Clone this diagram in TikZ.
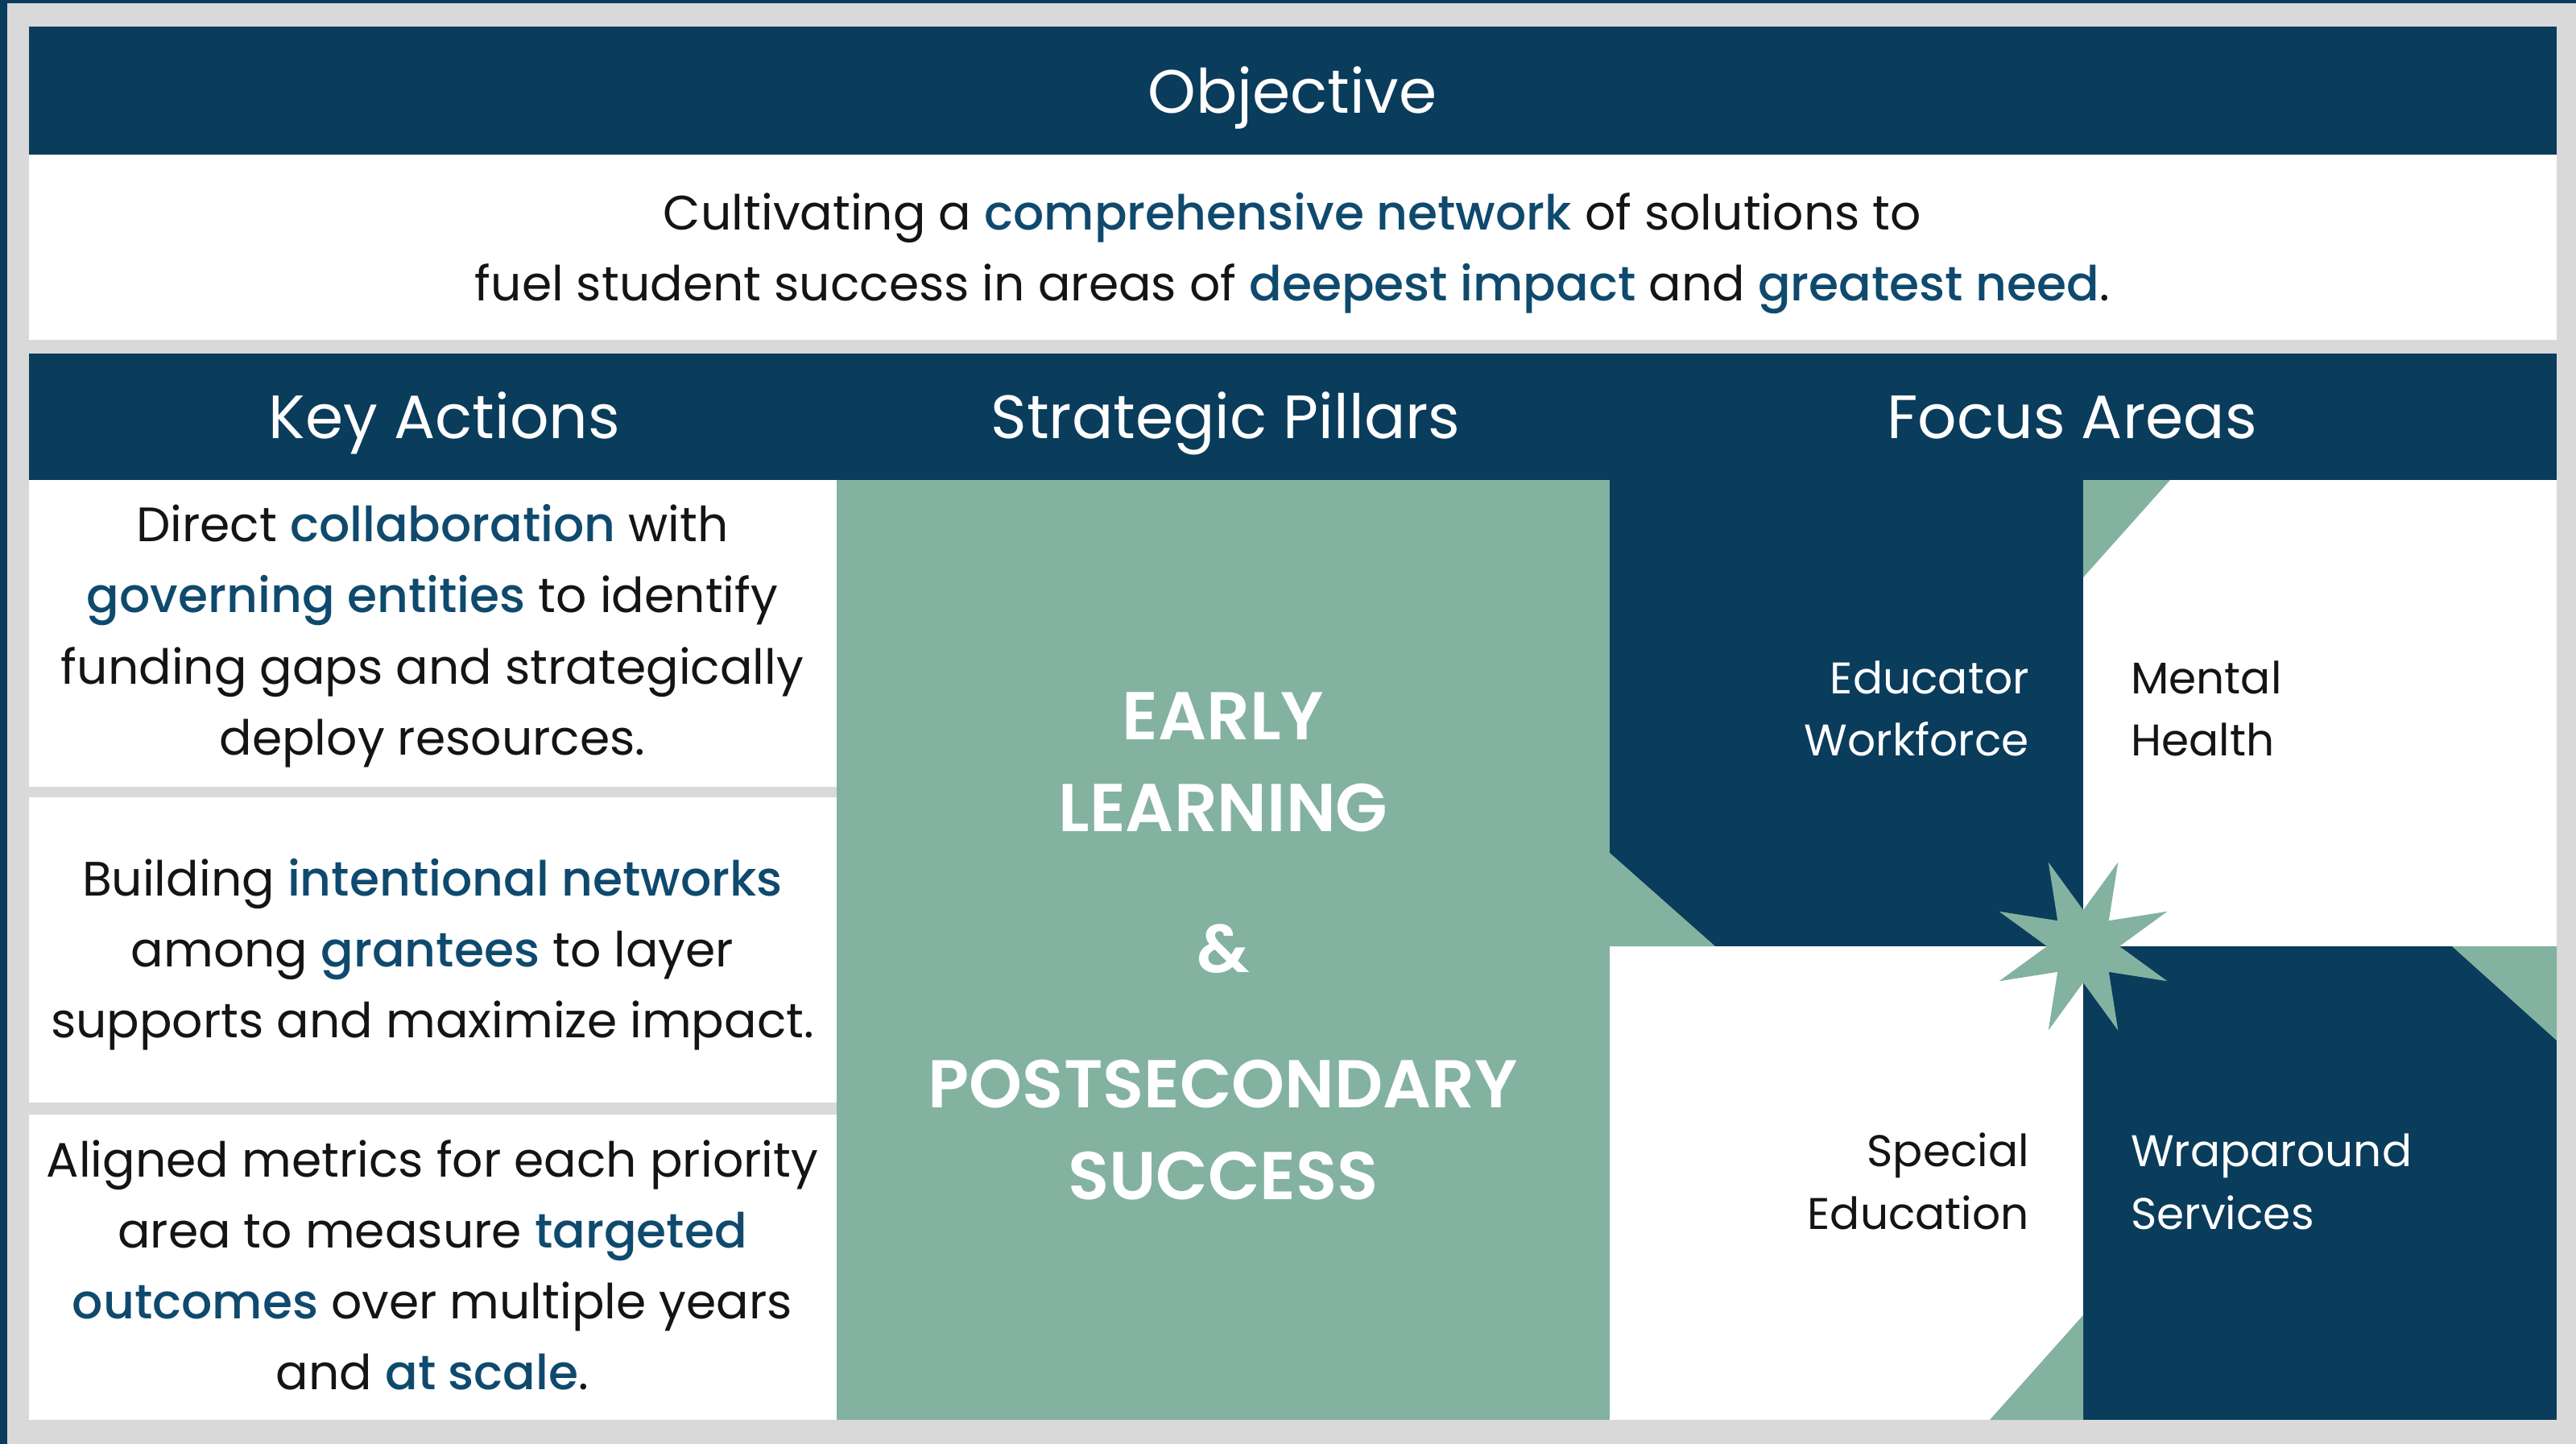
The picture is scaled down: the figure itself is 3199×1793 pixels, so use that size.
\documentclass[tikz,border=0pt]{standalone}
\usepackage{fontspec}
\setmainfont{Poppins}
\newfontfamily\pmed{Poppins}[UprightFont={* Medium}]
\newfontfamily\psemi{Poppins}[UprightFont={* SemiBold}]
\definecolor{navy}{HTML}{0A3C5C}
\definecolor{sage}{HTML}{83B2A0}
\definecolor{framegray}{HTML}{D9D9D9}
\definecolor{kwblue}{HTML}{0F4A6E}
\definecolor{ink}{HTML}{141414}
\newcommand\kw[1]{{\pmed\textcolor{kwblue}{#1}}}
\tikzset{
  body/.style={font=\fontsize{60}{88}\selectfont, text=ink, anchor=mid, inner sep=0pt},
  head/.style={font=\fontsize{76}{80}\selectfont, text=white, anchor=mid, inner sep=0pt},
  pillar/.style={font=\fontsize{84}{90}\selectfont\psemi, text=white, anchor=mid, inner sep=0pt},
  focusR/.style={font=\fontsize{55}{78}\selectfont, anchor=mid east, inner sep=0pt},
  focusL/.style={font=\fontsize{55}{78}\selectfont, anchor=mid west, inner sep=0pt},
}
\begin{document}
\begin{tikzpicture}[x=1pt,y=-1pt]
\useasboundingbox (0,0) rectangle (3199,1793);
% frame
\fill[framegray] (0,0) rectangle (3199,1793);
\fill[navy] (0,0) rectangle (9,1793);
\fill[navy] (0,0) rectangle (3199,4);
% objective
\fill[navy] (36,33) rectangle (3175,192);
\fill[white] (36,192) rectangle (3175,422);
% section header
\fill[navy] (36,439) rectangle (3175,596);
% key action cells
\fill[white] (36,596) rectangle (1039,977);
\fill[white] (36,990) rectangle (1039,1369);
\fill[white] (36,1384) rectangle (1039,1763);
% pillars
\fill[sage] (1039,596) rectangle (1999,1763);
% focus quadrants
\fill[navy] (1999,596) rectangle (2587,1175);
\fill[white] (2587,596) rectangle (3175,1175);
\fill[white] (1999,1175) rectangle (2587,1763);
\fill[navy] (2587,1175) rectangle (3175,1763);
% triangles
\fill[sage] (2587,596) -- (2695,596) -- (2587,717) -- cycle;
\fill[sage] (1999,1059) -- (1999,1175) -- (2130,1175) -- cycle;
\fill[sage] (3045,1175) -- (3175,1175) -- (3175,1292) -- cycle;
\fill[sage] (2587,1633) -- (2587,1763) -- (2471,1763) -- cycle;
% star
\fill[sage,shift={(2587,1175)}] (22.5:113) -- (45:45) -- (67.5:113) -- (90:45) -- (112.5:113) -- (135:45) -- (157.5:113) -- (180:45) -- (202.5:113) -- (225:45) -- (247.5:113) -- (270:45) -- (292.5:113) -- (315:45) -- (337.5:113) -- (0:45) -- cycle;
% headers
\node[head] (hobj) at (1605,138) {Objective};
\node[head] (hka) at (552,542) {Key Actions};
\node[head] (hsp) at (1522,542) {Strategic Pillars};
\node[head] (hfa) at (2573,542) {Focus Areas};
% objective text
\node[body] (obj1) at (1605,283) {Cultivating a \kw{comprehensive network} of solutions to};
\node[body] (obj2) at (1605,371) {fuel student success in areas of \kw{deepest impact} and \kw{greatest need}.};
% key actions
\node[body] (a1) at (537,670) {Direct \kw{collaboration} with};
\node[body] (a2) at (537,758) {\kw{governing entities} to identify};
\node[body] (a3) at (537,847) {funding gaps and strategically};
\node[body] (a4) at (537,935) {deploy resources.};
\node[body] (b1) at (537,1110) {Building \kw{intentional networks}};
\node[body] (b2) at (537,1198) {among \kw{grantees} to layer};
\node[body] (b3) at (537,1286) {supports and maximize impact.};
\node[body] (c1) at (537,1459) {Aligned metrics for each priority};
\node[body] (c2) at (537,1547) {area to measure \kw{targeted}};
\node[body] (c3) at (537,1635) {\kw{outcomes} over multiple years};
\node[body] (c4) at (537,1723) {and \kw{at scale}.};
% pillars
\node[pillar] (p1) at (1519,916) {EARLY};
\node[pillar] (p2) at (1519,1030) {LEARNING};
\node[pillar] (p3) at (1519,1205) {\&};
\node[pillar] (p4) at (1519,1373) {POSTSECONDARY};
\node[pillar] (p5) at (1519,1487) {SUCCESS};
% focus areas
\node[focusR,text=white] (f1) at (2520,859) {Educator};
\node[focusR,text=white] (f2) at (2520,936) {Workforce};
\node[focusL,text=ink] (f3) at (2646,859) {Mental};
\node[focusL,text=ink] (f4) at (2646,936) {Health};
\node[focusR,text=ink] (f5) at (2520,1446) {Special};
\node[focusR,text=ink] (f6) at (2520,1524) {Education};
\node[focusL,text=white] (f7) at (2646,1446) {Wraparound};
\node[focusL,text=white] (f8) at (2646,1524) {Services};
\end{tikzpicture}
\end{document}
